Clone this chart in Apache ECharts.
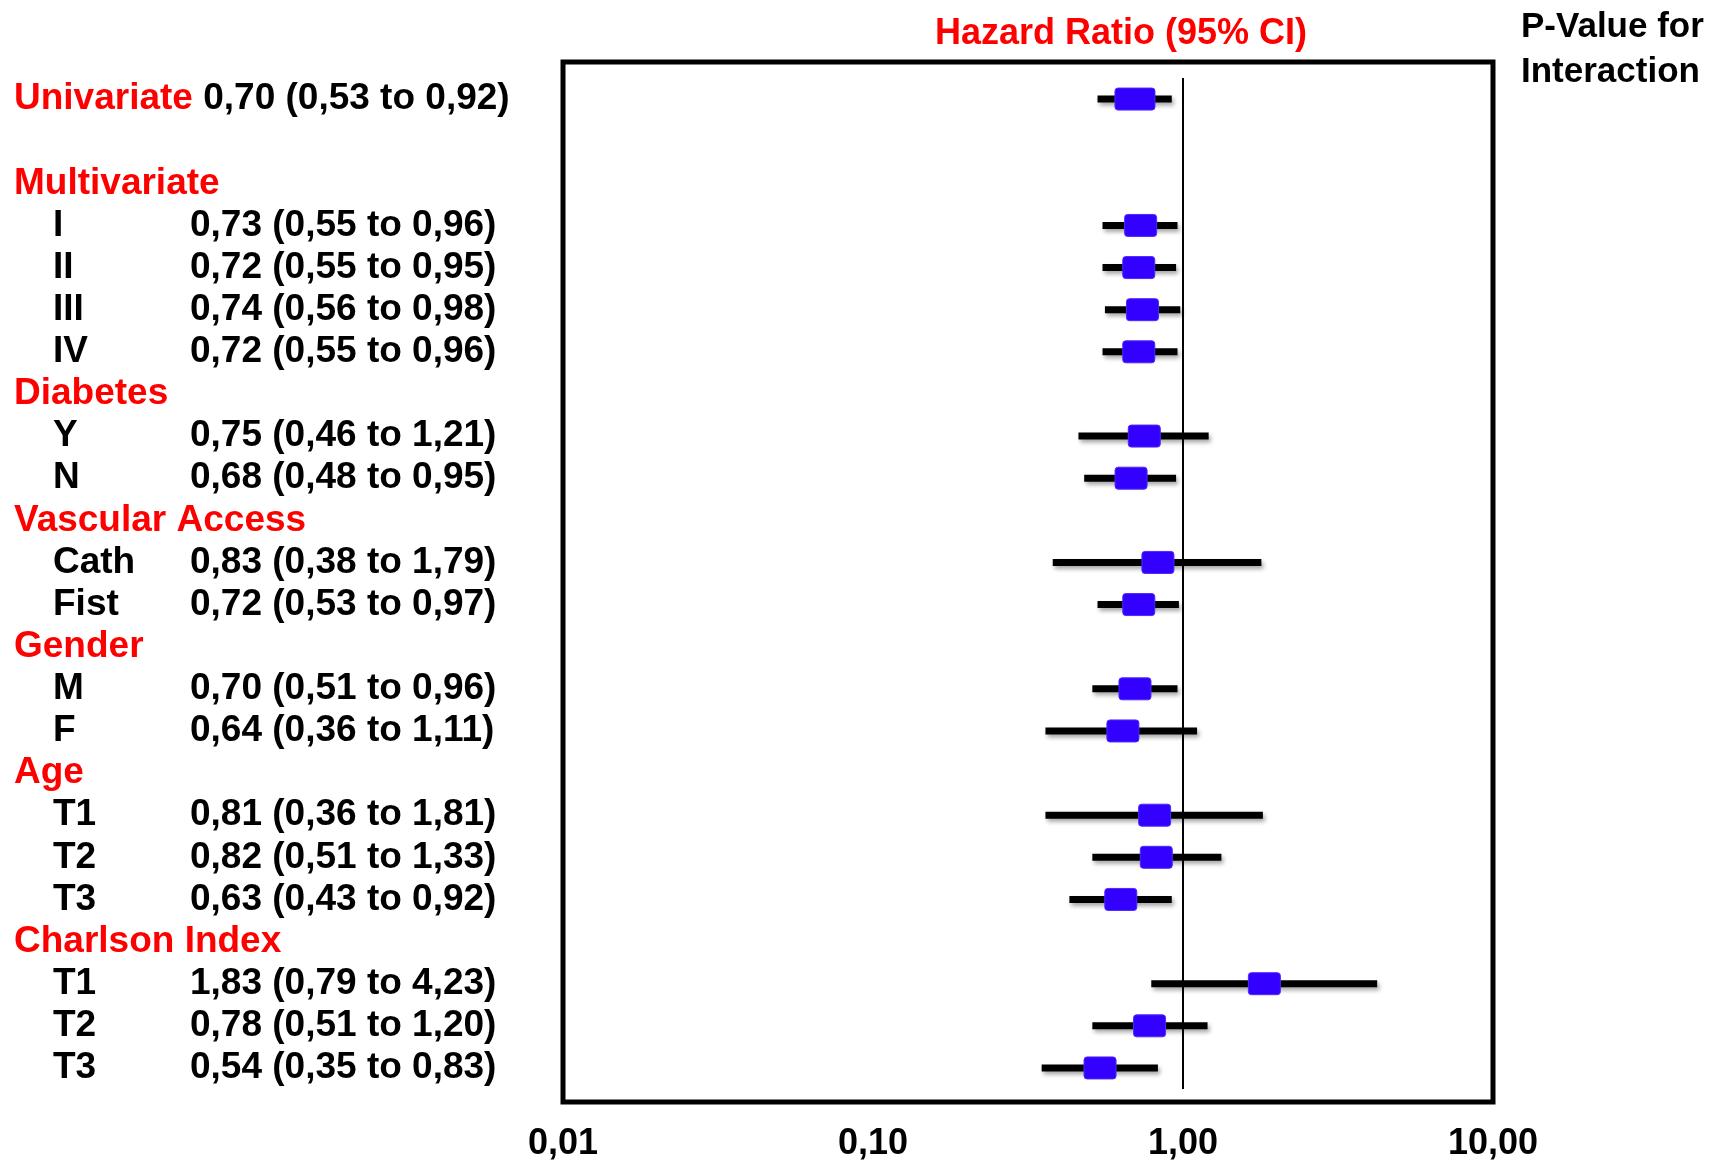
<!DOCTYPE html>
<html>
<head>
<meta charset="utf-8">
<script src="https://cdn.jsdelivr.net/npm/echarts@6/dist/echarts.min.js"></script>
<style>
  html, body { margin: 0; padding: 0; background: #ffffff; }
  #chart { width: 1729px; height: 1162px; }
</style>
</head>
<body>
<div id="chart"></div>
<script>
// ---- Data ----
const rowLabels = ['Univariate', '', 'Multivariate', 'I', 'II', 'III', 'IV', 'Diabetes', 'Y', 'N',
  'Vascular Access', 'Cath', 'Fist', 'Gender', 'M', 'F', 'Age', 'T1', 'T2', 'T3',
  'Charlson Index', 'T1', 'T2', 'T3'];
const rowTypes = ['overall', 'spacer', 'group', 'item', 'item', 'item', 'item', 'group', 'item', 'item',
  'group', 'item', 'item', 'group', 'item', 'item', 'group', 'item', 'item', 'item',
  'group', 'item', 'item', 'item'];
const hazardRatio = [0.70, null, null, 0.73, 0.72, 0.74, 0.72, null, 0.75, 0.68,
  null, 0.83, 0.72, null, 0.70, 0.64, null, 0.81, 0.82, 0.63,
  null, 1.83, 0.78, 0.54];
const ciLower = [0.53, null, null, 0.55, 0.55, 0.56, 0.55, null, 0.46, 0.48,
  null, 0.38, 0.53, null, 0.51, 0.36, null, 0.36, 0.51, 0.43,
  null, 0.79, 0.51, 0.35];
const ciUpper = [0.92, null, null, 0.96, 0.95, 0.98, 0.96, null, 1.21, 0.95,
  null, 1.79, 0.97, null, 0.96, 1.11, null, 1.81, 1.33, 0.92,
  null, 4.23, 1.20, 0.83];
const xTickValues = [0.01, 0.1, 1, 10];
const xTickLabels = ['0,01', '0,10', '1,00', '10,00'];

const titleText = 'Hazard Ratio (95% CI)';
const pValueTitle = 'P-Value for\nInteraction';

// ---- Helpers ----
const fmt = v => v.toFixed(2).replace('.', ',');
const ciText = i => fmt(hazardRatio[i]) + ' (' + fmt(ciLower[i]) + ' to ' + fmt(ciUpper[i]) + ')';

const FONT = '"Liberation Sans", Arial, sans-serif';
const RED = '#ff0000';
const BLUE = '#3300ff';

const seriesData = [];
rowLabels.forEach((_, i) => {
  if (hazardRatio[i] != null) {
    seriesData.push({ value: [ciLower[i], ciUpper[i], hazardRatio[i], i] });
  }
});

function labelFormatter(value) {
  const i = Number(value);
  const t = rowTypes[i];
  if (t === 'overall') return '{hdr|' + rowLabels[i] + '} {val|' + ciText(i) + '}';
  if (t === 'group') return '{hdr|' + rowLabels[i] + '}';
  if (t === 'item') return '{sp|.}{lab|' + rowLabels[i] + '}{val|' + ciText(i) + '}';
  return '';
}

const chart = echarts.init(document.getElementById('chart'), null, { renderer: 'canvas' });

const option = {
  backgroundColor: '#ffffff',
  animation: false,
  title: [
    {
      text: titleText,
      left: 930, top: 11,
      textStyle: { color: RED, fontSize: 36, fontWeight: 'bold', fontFamily: FONT }
    },
    {
      text: pValueTitle,
      left: 1516, top: 0,
      textStyle: { color: '#000', fontSize: 35, fontWeight: 'bold', fontFamily: FONT, lineHeight: 45 }
    }
  ],
  grid: [
    { left: 563, right: 236, top: 78, bottom: 70, show: false },
    { left: 563, right: 236, top: 62, bottom: 60, show: true, borderColor: '#000', borderWidth: 5, backgroundColor: 'transparent' }
  ],
  xAxis: [
    {
      gridIndex: 0,
      type: 'log', logBase: 10, min: 0.01, max: 10,
      axisLine: { show: false }, axisTick: { show: false }, splitLine: { show: false },
      axisLabel: {
        margin: 37,
        color: '#000', fontSize: 36, fontWeight: 'bold', fontFamily: FONT,
        formatter: v => {
          const k = xTickValues.findIndex(t => Math.abs(Math.log10(t) - Math.log10(v)) < 1e-6);
          return k >= 0 ? xTickLabels[k] : '';
        }
      }
    },
    { gridIndex: 1, type: 'value', show: false }
  ],
  yAxis: [
    {
      gridIndex: 0,
      type: 'category', inverse: true,
      data: rowLabels.map((_, i) => String(i)),
      axisLine: { show: false }, axisTick: { show: false }, splitLine: { show: false },
      axisLabel: {
        interval: 0,
        margin: 549,
        align: 'left',
        color: '#000', fontSize: 37, fontWeight: 'bold', fontFamily: FONT,
        formatter: labelFormatter,
        rich: {
          hdr: { color: RED, fontSize: 37, fontWeight: 'bold', fontFamily: FONT },
          val: { color: '#000', fontSize: 37, fontWeight: 'bold', fontFamily: FONT },
          lab: { color: '#000', fontSize: 37, fontWeight: 'bold', fontFamily: FONT, width: 137 },
          sp: { color: 'rgba(0,0,0,0)', fontSize: 37, width: 39 }
        }
      }
    },
    { gridIndex: 1, type: 'value', show: false }
  ],
  series: [
    {
      type: 'line',
      xAxisIndex: 0, yAxisIndex: 0,
      data: [],
      silent: true,
      markLine: {
        silent: true,
        symbol: 'none',
        label: { show: false },
        lineStyle: { color: '#000', width: 2, type: 'solid' },
        data: [{ xAxis: 1 }]
      }
    },
    {
      type: 'custom',
      xAxisIndex: 0, yAxisIndex: 0,
      encode: { x: [0, 1, 2], y: 3 },
      data: seriesData,
      z: 5,
      renderItem: function (params, api) {
        const row = api.value(3);
        const pL = api.coord([api.value(0), row]);
        const pU = api.coord([api.value(1), row]);
        const pH = api.coord([api.value(2), row]);
        const big = rowTypes[row] === 'overall';
        const w = big ? 40 : 32;
        const h = 22;
        return {
          type: 'group',
          children: [
            {
              type: 'line',
              shape: { x1: pL[0], y1: pL[1], x2: pU[0], y2: pU[1] },
              style: {
                stroke: '#000', lineWidth: 7, lineCap: 'butt',
                shadowColor: 'rgba(0,0,0,0.35)', shadowBlur: 4, shadowOffsetX: 2, shadowOffsetY: 3
              }
            },
            {
              type: 'rect',
              shape: { x: pH[0] - w / 2, y: pH[1] - h / 2, width: w, height: h, r: 3 },
              style: { fill: BLUE, stroke: '#4a2bff', lineWidth: 1 }
            }
          ]
        };
      }
    }
  ]
};

chart.setOption(option);
</script>
</body>
</html>
